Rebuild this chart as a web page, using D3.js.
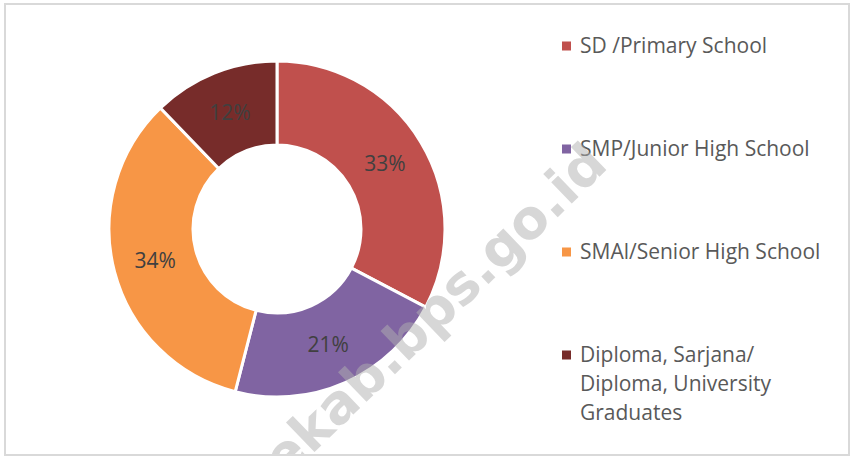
<!DOCTYPE html>
<head>
  <script src="https://d3js.org/d3.v7.min.js"></script>
  <style>
    body { margin: 0; background: #fff; }
  </style>
</head>
<body>
  <svg width="858" height="457"></svg>
  <script>
    // education level shares, clockwise from 12 o'clock
    const categories = [
      ["SD /Primary School"],
      ["SMP/Junior High School"],
      ["SMAl/Senior High School"],
      ["Diploma, Sarjana/", "Diploma, University", "Graduates"]
    ];
    const shares = [32.7, 21.3, 33.8, 12.2];
    const colors = ["#c0504d", "#8064a2", "#f79646", "#772c2a"];
    const watermark = "ekab.bps.go.id";

    const svg = d3.select("svg");
    const font = "'Open Sans', sans-serif";

    // frame
    svg.append("rect")
      .attr("x", 5).attr("y", 4)
      .attr("width", 844).attr("height", 451)
      .attr("fill", "#fff")
      .attr("stroke", "#d9d9d9")
      .attr("stroke-width", 2);

    svg.append("clipPath").attr("id", "frame")
      .append("rect")
      .attr("x", 6).attr("y", 5)
      .attr("width", 842).attr("height", 449);

    const cx = 277, cy = 229, outerR = 168, innerR = 84;

    const pie = d3.pie().sort(null).value(d => d);
    const arc = d3.arc().innerRadius(innerR).outerRadius(outerR);
    const labelArc = d3.arc().innerRadius((innerR + outerR) / 2).outerRadius((innerR + outerR) / 2);
    const total = d3.sum(shares);

    const g = svg.append("g").attr("transform", `translate(${cx},${cy})`);
    const arcs = pie(shares);

    g.selectAll("path")
      .data(arcs)
      .enter().append("path")
      .attr("d", arc)
      .attr("fill", (d, i) => colors[i])
      .attr("stroke", "#fff")
      .attr("stroke-width", 3);

    g.selectAll("text")
      .data(arcs)
      .enter().append("text")
      .attr("transform", d => `translate(${labelArc.centroid(d)})`)
      .attr("dy", "0.35em")
      .attr("text-anchor", "middle")
      .style("font-family", font)
      .style("font-size", "21px")
      .style("fill", "#404040")
      .text(d => Math.round(d.data / total * 100) + "%");

    // legend
    const legendY = d3.scalePoint().domain(d3.range(categories.length)).range([46, 355]);
    const legend = svg.append("g");
    const items = legend.selectAll("g")
      .data(categories)
      .enter().append("g")
      .attr("transform", (d, i) => `translate(562,${legendY(i)})`);

    items.append("rect")
      .attr("x", 0).attr("y", -4.5)
      .attr("width", 9).attr("height", 9)
      .attr("fill", (d, i) => colors[i]);

    items.append("text")
      .style("font-family", font)
      .style("font-size", "21px")
      .style("fill", "#595959")
      .selectAll("tspan")
      .data(d => d)
      .enter().append("tspan")
      .attr("x", 18)
      .attr("y", (d, j) => 7 + j * 29)
      .text(d => d);

    // watermark
    const wm = svg.append("g")
      .attr("clip-path", "url(#frame)")
      .append("g")
      .attr("transform", "translate(530,223) rotate(-44)")
      .append("text")
      .style("font-family", "'DejaVu Sans', sans-serif")
      .style("font-weight", "bold")
      .style("font-size", "54px")
      .style("fill", "#b0b0b0")
      .style("opacity", 0.5)
      .attr("y", 15)
      .text(watermark);
    const node = wm.node();
    const oIdx = watermark.lastIndexOf("o");
    const off = node.getSubStringLength(0, oIdx) + node.getSubStringLength(oIdx, 1) / 2;
    wm.attr("x", -off);
  </script>
</body>
